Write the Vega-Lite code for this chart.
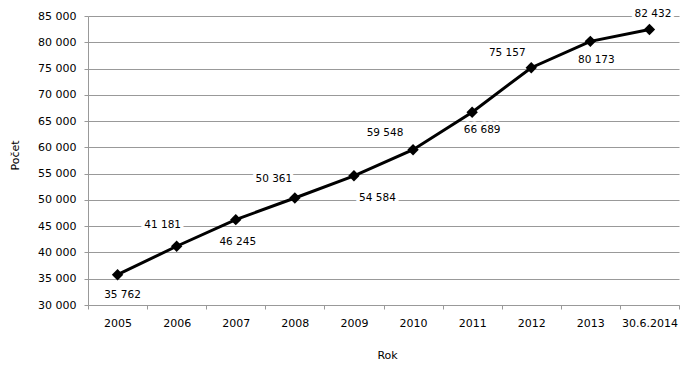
{
  "$schema": "https://vega.github.io/schema/vega-lite/v6.json",
  "width": 591,
  "height": 289,
  "autosize": {"type": "none"},
  "padding": {"left": 88, "top": 16, "right": 13, "bottom": 63},
  "background": "white",
  "config": {
    "locale": {"number": {"decimal": ",", "thousands": " ", "grouping": [3], "currency": ["", ""]}},
    "view": {"stroke": null},
    "font": "DejaVu Sans"
  },
  "data": {
    "values": [
      {"rok": "2005", "pocet": 35762},
      {"rok": "2006", "pocet": 41181},
      {"rok": "2007", "pocet": 46245},
      {"rok": "2008", "pocet": 50361},
      {"rok": "2009", "pocet": 54584},
      {"rok": "2010", "pocet": 59548},
      {"rok": "2011", "pocet": 66689},
      {"rok": "2012", "pocet": 75157},
      {"rok": "2013", "pocet": 80173},
      {"rok": "30.6.2014", "pocet": 82432}
    ]
  },
  "encoding": {
    "x": {
      "field": "rok", "type": "nominal", "sort": null,
      "scale": {"type": "band", "paddingInner": 0, "paddingOuter": 0},
      "axis": {
        "title": "Rok", "titleFontWeight": "normal", "titleFontSize": 11, "titleColor": "#000",
        "titleX": 299, "titleY": 50, "titleAlign": "center", "titleBaseline": "middle",
        "labelAngle": 0, "labelFontSize": 11, "labelColor": "#000", "labelPadding": 8,
        "tickBand": "extent", "tickSize": 4, "tickColor": "#999", "domainColor": "#999",
        "grid": false
      }
    },
    "y": {
      "field": "pocet", "type": "quantitative",
      "scale": {"domain": [30000, 85000], "nice": false, "zero": false},
      "axis": {
        "title": "Počet", "titleFontWeight": "normal", "titleFontSize": 11, "titleColor": "#000",
        "titleX": -73, "titleY": 139, "titleAlign": "center", "titleBaseline": "middle",
        "values": [30000, 35000, 40000, 45000, 50000, 55000, 60000, 65000, 70000, 75000, 80000, 85000],
        "format": ",d", "labelFontSize": 11, "labelColor": "#000", "labelPadding": 8,
        "tickSize": 4, "tickColor": "#999", "domainColor": "#999",
        "grid": true, "gridColor": "#999", "gridWidth": 1
      }
    },
    "text": {"field": "pocet", "type": "quantitative", "format": ",d"}
  },
  "layer": [
    {"mark": {"type": "line", "color": "black", "strokeWidth": 3}},
    {"mark": {"type": "point", "shape": "diamond", "filled": true, "color": "black", "size": 130, "opacity": 1}},
    {"transform": [{"filter": "datum.rok === '2005'"}], "layer": [
      {"mark": {"type": "text", "dx": 5, "dy": 20, "fontSize": 10.5, "color": "white", "stroke": "white", "strokeWidth": 7, "strokeJoin": "round"}},
      {"mark": {"type": "text", "dx": 5, "dy": 20, "fontSize": 10.5, "color": "#000"}}
    ]},
    {"transform": [{"filter": "datum.rok === '2006'"}], "layer": [
      {"mark": {"type": "text", "dx": -14, "dy": -21, "fontSize": 10.5, "color": "white", "stroke": "white", "strokeWidth": 7, "strokeJoin": "round"}},
      {"mark": {"type": "text", "dx": -14, "dy": -21, "fontSize": 10.5, "color": "#000"}}
    ]},
    {"transform": [{"filter": "datum.rok === '2007'"}], "layer": [
      {"mark": {"type": "text", "dx": 2, "dy": 22, "fontSize": 10.5, "color": "white", "stroke": "white", "strokeWidth": 7, "strokeJoin": "round"}},
      {"mark": {"type": "text", "dx": 2, "dy": 22, "fontSize": 10.5, "color": "#000"}}
    ]},
    {"transform": [{"filter": "datum.rok === '2008'"}], "layer": [
      {"mark": {"type": "text", "dx": -21, "dy": -19.5, "fontSize": 10.5, "color": "white", "stroke": "white", "strokeWidth": 7, "strokeJoin": "round"}},
      {"mark": {"type": "text", "dx": -21, "dy": -19.5, "fontSize": 10.5, "color": "#000"}}
    ]},
    {"transform": [{"filter": "datum.rok === '2009'"}], "layer": [
      {"mark": {"type": "text", "dx": 23.5, "dy": 22, "fontSize": 10.5, "color": "white", "stroke": "white", "strokeWidth": 7, "strokeJoin": "round"}},
      {"mark": {"type": "text", "dx": 23.5, "dy": 22, "fontSize": 10.5, "color": "#000"}}
    ]},
    {"transform": [{"filter": "datum.rok === '2010'"}], "layer": [
      {"mark": {"type": "text", "dx": -28, "dy": -17, "fontSize": 10.5, "color": "white", "stroke": "white", "strokeWidth": 7, "strokeJoin": "round"}},
      {"mark": {"type": "text", "dx": -28, "dy": -17, "fontSize": 10.5, "color": "#000"}}
    ]},
    {"transform": [{"filter": "datum.rok === '2011'"}], "layer": [
      {"mark": {"type": "text", "dx": 10, "dy": 18, "fontSize": 10.5, "color": "white", "stroke": "white", "strokeWidth": 7, "strokeJoin": "round"}},
      {"mark": {"type": "text", "dx": 10, "dy": 18, "fontSize": 10.5, "color": "#000"}}
    ]},
    {"transform": [{"filter": "datum.rok === '2012'"}], "layer": [
      {"mark": {"type": "text", "dx": -24, "dy": -15, "fontSize": 10.5, "color": "white", "stroke": "white", "strokeWidth": 7, "strokeJoin": "round"}},
      {"mark": {"type": "text", "dx": -24, "dy": -15, "fontSize": 10.5, "color": "#000"}}
    ]},
    {"transform": [{"filter": "datum.rok === '2013'"}], "layer": [
      {"mark": {"type": "text", "dx": 6, "dy": 19, "fontSize": 10.5, "color": "white", "stroke": "white", "strokeWidth": 7, "strokeJoin": "round"}},
      {"mark": {"type": "text", "dx": 6, "dy": 19, "fontSize": 10.5, "color": "#000"}}
    ]},
    {"transform": [{"filter": "datum.rok === '30.6.2014'"}], "layer": [
      {"mark": {"type": "text", "dx": 3.5, "dy": -15.7, "fontSize": 10.5, "color": "white", "stroke": "white", "strokeWidth": 7, "strokeJoin": "round"}},
      {"mark": {"type": "text", "dx": 3.5, "dy": -15.7, "fontSize": 10.5, "color": "#000"}}
    ]}
  ]
}
